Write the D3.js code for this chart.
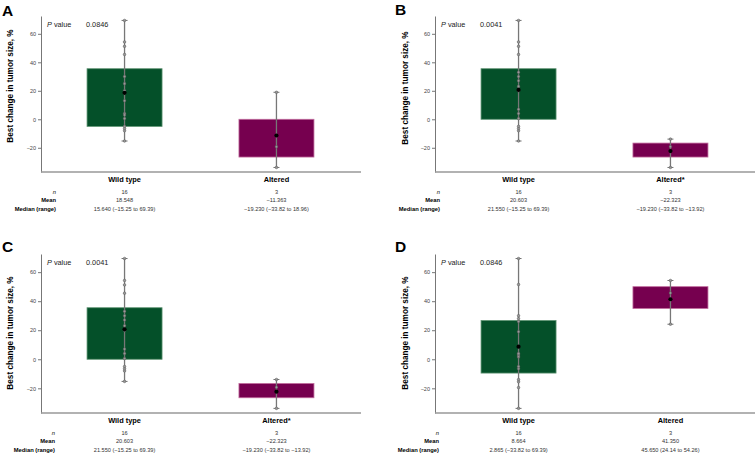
<!DOCTYPE html>
<html>
<head>
<meta charset="utf-8">
<script src="https://cdn.jsdelivr.net/npm/d3@7"></script>
<style>
  body { margin: 0; background: #fff; }
  svg { display: block; font-family: Arial, 'Liberation Sans', sans-serif; }
</style>
</head>
<body>
<div id="chart"></div>
<script>
// ---- data ----
const panelIds = ['A', 'B', 'C', 'D'];
const groupLabels = [
  ['Wild type', 'Altered'],
  ['Wild type', 'Altered*'],
  ['Wild type', 'Altered*'],
  ['Wild type', 'Altered']
];
const pValues = ['0.0846', '0.0041', '0.0041', '0.0846'];

// individual patients (best change, %)
const wildPoints = [
  [-15.25, -8, -6.5, -5, 0.5, 4, 3, 13, 18.28, 20, 25, 30, 45.5, 51.2, 54.3, 69.39],
  [-15.25, -8, -6.5, -5, 0.5, 4, 7, 20, 23.1, 27, 30, 33, 45.5, 51.2, 54.3, 69.39],
  [-15.25, -8, -6.5, -5, 0.5, 4, 7, 20, 23.1, 27, 30, 33, 45.5, 51.2, 54.3, 69.39],
  [-33.82, -19.5, -15.5, -14, -6.5, -5, 1.5, 2.2, 3.53, 4, 19, 26, 28, 30, 51.5, 69.39]
];
const alteredPoints = [
  [-33.82, -19.23, 18.96],
  [-33.82, -19.23, -13.92],
  [-33.82, -19.23, -13.92],
  [24.14, 45.65, 54.26]
];
// bar extents [low, high] per group
const wildBox = [[-5, 35.5], [0, 35.5], [0, 35.5], [-9.5, 26.7]];
const alteredBox = [[-26.5, 0], [-26.5, -16.7], [-26.5, -16.7], [35, 50]];
const wildMean = [18.548, 20.603, 20.603, 8.664];
const alteredMean = [-11.363, -22.323, -22.323, 41.350];

// table under each panel
const rowLabels = ['n', 'Mean', 'Median (range)'];
const wildStats = [
  ['16', '18.548', '15.640 (\u221215.25 to 69.39)'],
  ['16', '20.603', '21.550 (\u221215.25 to 69.39)'],
  ['16', '20.603', '21.550 (\u221215.25 to 69.39)'],
  ['16', '8.664', '2.865 (\u221233.82 to 69.39)']
];
const alteredStats = [
  ['3', '\u221211.363', '\u221219.230 (\u221233.82 to 18.96)'],
  ['3', '\u221222.323', '\u221219.230 (\u221233.82 to \u221213.92)'],
  ['3', '\u221222.323', '\u221219.230 (\u221233.82 to \u221213.92)'],
  ['3', '41.350', '45.650 (24.14 to 54.26)']
];
const yTicks = [-20, 0, 20, 40, 60];

// ---- layout ----
const layout = [
  { lx: 2,   ly: 16,  axisX: 41,  right: 361, top: 16,  bottom: 172, titleX: 10,  titleY: 86,  statsX: 56 },
  { lx: 395, ly: 15,  axisX: 435, right: 755, top: 16,  bottom: 172, titleX: 405, titleY: 88,  statsX: 440 },
  { lx: 2,   ly: 252, axisX: 41,  right: 361, top: 254, bottom: 413, titleX: 10,  titleY: 333, statsX: 55 },
  { lx: 395, ly: 252, axisX: 435, right: 755, top: 254, bottom: 413, titleX: 405, titleY: 333, statsX: 439 }
];

const colors = ['#045029', '#76004f'];
const borders = ['#5f9473', '#c06a9c'];
const barWidth = 75;

const svg = d3.select('#chart').append('svg')
  .attr('width', 756)
  .attr('height', 456);

panelIds.forEach((id, i) => {
  const L = layout[i];
  const g = svg.append('g').attr('class', 'panel');

  const x = d3.scalePoint()
    .domain([0, 1])
    .range([L.axisX, L.right - 1])
    .padding(0.55);
  const y = d3.scaleLinear()
    .domain([-37, 72.5])
    .range([L.bottom, L.top]);

  // panel letter
  g.append('text')
    .attr('x', L.lx).attr('y', L.ly)
    .style('font-size', '15.5px').style('font-weight', 'bold')
    .text(id);

  // y axis
  const yAxis = g.append('g')
    .attr('transform', `translate(${L.axisX},0)`)
    .call(d3.axisLeft(y).tickValues(yTicks).tickSize(3).tickPadding(2).tickSizeOuter(0));
  yAxis.select('.domain').attr('stroke', '#777').attr('stroke-width', 1);
  yAxis.selectAll('.tick line').attr('stroke', '#777');
  yAxis.selectAll('.tick text')
    .style('font-size', '5.5px').attr('fill', '#444')
    .style('font-family', 'Arial, Liberation Sans, sans-serif');

  // x axis line
  g.append('line')
    .attr('x1', L.axisX).attr('x2', L.right)
    .attr('y1', L.bottom).attr('y2', L.bottom)
    .attr('stroke', '#999').attr('stroke-width', 1.5);

  // y title
  g.append('text')
    .attr('transform', `translate(${L.titleX + 3},${L.titleY}) rotate(-90)`)
    .attr('text-anchor', 'middle')
    .style('font-size', '8.2px').style('font-weight', 'bold')
    .text('Best change in tumor size, %');

  // P value
  const pv = g.append('text')
    .attr('x', L.axisX + 6).attr('y', L.top + 11)
    .style('font-size', '7.3px').attr('fill', '#222');
  pv.append('tspan').style('font-style', 'italic').text('P');
  pv.append('tspan').text(' value');
  g.append('text')
    .attr('x', L.axisX + 45).attr('y', L.top + 11)
    .style('font-size', '7.3px').attr('fill', '#222')
    .text(pValues[i]);

  const groups = [
    { box: wildBox[i], pts: wildPoints[i], mean: wildMean[i], stats: wildStats[i] },
    { box: alteredBox[i], pts: alteredPoints[i], mean: alteredMean[i], stats: alteredStats[i] }
  ];

  groups.forEach((grp, k) => {
    const cx = x(k);

    // bar
    g.append('rect')
      .attr('x', cx - barWidth / 2)
      .attr('width', barWidth)
      .attr('y', y(grp.box[1]))
      .attr('height', y(grp.box[0]) - y(grp.box[1]))
      .attr('fill', colors[k])
      .attr('stroke', borders[k])
      .attr('stroke-width', 0.8);

    // whisker
    const [lo, hi] = d3.extent(grp.pts);
    g.append('line')
      .attr('x1', cx).attr('x2', cx)
      .attr('y1', y(lo)).attr('y2', y(hi))
      .attr('stroke', '#777').attr('stroke-width', 1.3);
    [lo, hi].forEach(v => {
      g.append('line')
        .attr('x1', cx - 3).attr('x2', cx + 3)
        .attr('y1', y(v)).attr('y2', y(v))
        .attr('stroke', '#666').attr('stroke-width', 0.9);
    });

    // individual points
    g.selectAll(null)
      .data(grp.pts)
      .join('circle')
      .attr('cx', cx)
      .attr('cy', d => y(d))
      .attr('r', 1.3)
      .attr('fill', '#9a9a9a')
      .attr('stroke', '#555')
      .attr('stroke-width', 0.5);

    // mean
    g.append('circle')
      .attr('cx', cx).attr('cy', y(grp.mean))
      .attr('r', 2.1)
      .attr('fill', '#000');

    // category label
    g.append('text')
      .attr('x', cx).attr('y', L.bottom + 9.5)
      .attr('text-anchor', 'middle')
      .style('font-size', '7.4px').style('font-weight', 'bold')
      .text(groupLabels[i][k]);

    // stats values
    grp.stats.forEach((s, r) => {
      g.append('text')
        .attr('x', cx).attr('y', L.bottom + 22 + r * 8.3)
        .attr('text-anchor', 'middle')
        .style('font-size', '5.6px').attr('fill', '#333')
        .text(s);
    });
  });

  // row labels
  rowLabels.forEach((lab, r) => {
    g.append('text')
      .attr('x', L.statsX).attr('y', L.bottom + 22 + r * 8.3)
      .attr('text-anchor', 'end')
      .style('font-size', '5.8px')
      .style('font-weight', r === 0 ? 'normal' : 'bold')
      .style('font-style', r === 0 ? 'italic' : 'normal')
      .text(lab);
  });
});
</script>
</body>
</html>
